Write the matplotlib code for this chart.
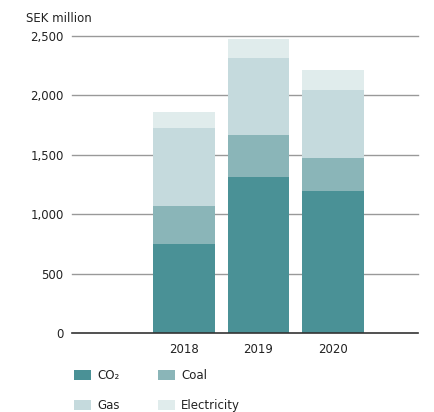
import matplotlib
matplotlib.use("Agg")
import matplotlib.pyplot as plt
import numpy as np

# data (SEK million)
years = ["2018", "2019", "2020"]
co2 = [747, 1310, 1193]
coal = [319, 354, 278]
gas = [657, 648, 572]
electricity = [135, 160, 168]
yticks = [0, 500, 1000, 1500, 2000, 2500]

series = [("CO₂", co2, "#4a9196"),
          ("Coal", coal, "#8ab5b8"),
          ("Gas", gas, "#c5dadd"),
          ("Electricity", electricity, "#e0ecec")]

plt.rcParams['font.family'] = ['DejaVu Sans']
fig = plt.figure(figsize=(4.35, 4.12), dpi=100)
ax = fig.add_axes([72/435, 1-333/412, 346/435, (333-35.7)/412])

x = np.arange(len(years))
bottom = np.zeros(len(years))
handles = {}
for name, vals, col in series:
    b = ax.bar(x, vals, width=0.82, bottom=bottom, color=col, zorder=3, linewidth=0)
    handles[name] = b
    bottom = bottom + np.array(vals)

ax.set_xlim(-1.503, 3.14)
ax.set_ylim(0, 2500)

for t in yticks:
    if t == 0:
        ax.axhline(t, color="#333333", lw=1.2, zorder=4, clip_on=False)
    else:
        ax.axhline(t, color="#999999", lw=1.0, zorder=1, clip_on=False)

for s in ax.spines.values():
    s.set_visible(False)
ax.set_yticks(yticks)
ax.set_yticklabels([f"{t:,}" for t in yticks])
ax.set_xticks(x)
ax.set_xticklabels(years)
ax.tick_params(axis="both", length=0, labelsize=8.5, colors="#222222")
ax.tick_params(axis="y", pad=6)
ax.tick_params(axis="x", pad=7)

fig.text(26/435, 1-18/412, "SEK million", fontsize=8.5, color="#222222",
         ha="left", va="center")

order = ["CO₂", "Gas", "Coal", "Electricity"]
leg = fig.legend([handles[n] for n in order], order, ncol=2,
                 loc="upper left", bbox_to_anchor=(74/435, 1-369/412),
                 frameon=False, fontsize=8.5, handlelength=1.45,
                 handleheight=0.95, handletextpad=0.5, labelspacing=1.45,
                 columnspacing=3.25, borderaxespad=0, borderpad=0)
for t in leg.get_texts():
    t.set_color("#222222")

fig.savefig("out.png", dpi=100)
